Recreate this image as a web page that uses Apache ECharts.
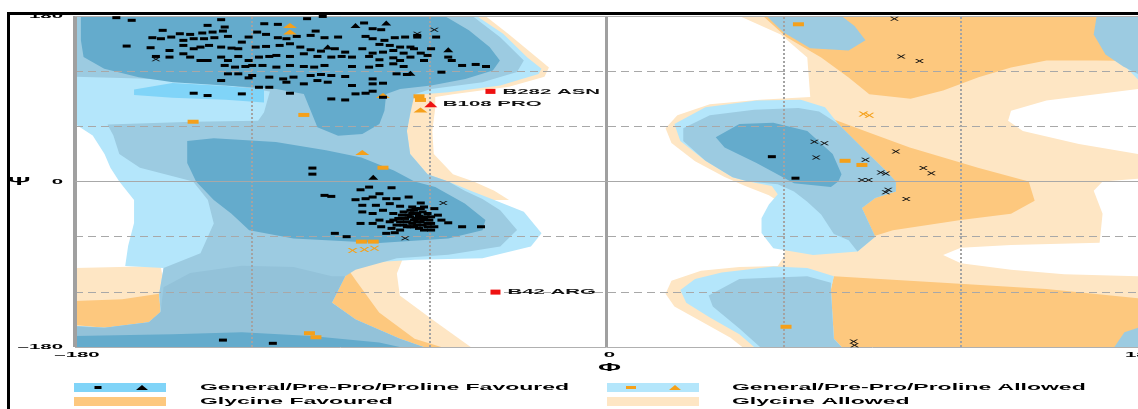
<!DOCTYPE html>
<html>
<head>
<meta charset="utf-8">
<script src="https://cdn.jsdelivr.net/npm/echarts@6/dist/echarts.min.js"></script>
<style>
html, body { margin: 0; padding: 0; background: #fff; }
#chart { width: 1138px; height: 409px; }
</style>
</head>
<body>
<div id="chart"></div>
<script>
// ---- region outlines, [phi, psi] in degrees ----
var glyAllowedRight = [[45,180],[59,160],[68,135],[69,92],[52,89],[35,84],[24,72],[20,58],[22,42],[30,22],[40,5],[47,-5],[55,-15],[60,-25],[62,-50],[60,-82],[58,-92],[45,-93],[32,-97],[22,-108],[20,-122],[23,-136],[32,-152],[42,-170],[46,-180],[180,-180],[180,-103],[155,-101],[137,-96],[120,-89],[114,-80],[120,-72],[137,-69],[167,-66.5],[168,-35],[165,-10],[168,0],[180,3],[180,30],[160,40.7],[141,55],[136,66],[137,77],[149,88],[180,100.7],[180,180]];
var glyAllowedRim = [[-90,180],[-41,180],[-33,160],[-24,136],[-19.5,124],[-21,114],[-33,103],[-52,95],[-58,92],[-58,80],[-59,55],[-58.5,30],[-52,8],[-45,0],[-38,-10],[-33,-20],[-90,-20]];
var glyAllowedBand = [[-90,-84],[-69,-84],[-71,-100],[-70,-124],[-59,-150],[-46,-180],[-90,-180]];
var glyAllowedEdge = [[-180,-94],[-165,-93],[-151,-92],[-150,-110],[-151,-130],[-151,-142],[-155,-153],[-170,-159],[-180,-158]];

var glyFavTop = [[53,180],[61,157],[72.7,135],[82,113],[89,95],[103,90],[114,99],[126,113.5],[137,124],[149,131.6],[166,131.6],[180,131],[180,180]];
var glyFavMid = [[75,70],[90,52],[102.7,37],[125.8,15],[143,0],[145,-21],[137,-35],[120,-42],[97,-53],[88,-62],[80,-40],[80,0],[75,40]];
var glyFavLow = [[77,-103],[114,-110],[149,-117],[180,-127],[180,-180],[79.6,-180],[77,-171],[76,-117.5]];
var glyFavEdge = [[-180,-130],[-164,-128],[-151.5,-122],[-151,-142.6],[-155,-153],[-170,-159],[-180,-156]];
var glyFavBand = [[-87,-98],[-88.5,-103],[-93,-132],[-85,-150],[-70,-171],[-62,-180],[-56,-180],[-65,-171],[-77,-142.6],[-85,-107]];

var genAllowedLeft = [[-180,180],[-44,180],[-35,160.7],[-26.8,135],[-22,122.5],[-23,117],[-36,104.4],[-53.6,97],[-62,95],[-66,90],[-66.5,73.5],[-67.6,55],[-66.5,30],[-60.6,8],[-53.6,0],[-46,-10],[-38,-20],[-28,-33],[-22,-56.4],[-25.6,-70.8],[-42,-83.4],[-65,-85],[-80,-88],[-87,-98],[-88.5,-103],[-93,-132],[-85,-150],[-70,-171],[-62,-180],[-180,-180],[-180,-157],[-170,-159],[-155,-153],[-151,-142],[-151.5,-122],[-150,-94],[-163,-92],[-162,-70],[-160,-45],[-160,-20],[-165,0],[-168,15],[-170,30],[-174,50],[-180,62.5]];
var genAllowedMid = [[23,62.5],[33.5,80.7],[50.8,88],[65.8,89],[74,80.7],[78.5,62.5],[86.5,37],[94.6,11.6],[98,0],[98,-11],[91,-18],[86.5,-28.7],[91,-60],[85,-76],[70,-80],[56.5,-72.6],[52.5,-56],[52.5,-40],[55,-25],[58,-14],[56,-5],[48,0],[42.7,4.5],[33.5,22.6],[25,44]];
var genAllowedLow = [[77,-103],[68,-94],[56.5,-92.5],[39,-99],[30,-106],[25,-118],[27,-132],[35,-148],[45,-166],[50,-180],[79.6,-180],[77,-171],[76,-117.5]];
var genAllowedCorner = [[176,124],[180,111],[180,122]];

var genMidLeft = [[-180,180],[-45.4,180],[-36,157],[-28,131.6],[-30.3,119],[-42,108],[-59.4,100.7],[-65,95],[-66.5,73.5],[-67.6,55],[-66.5,30],[-60.6,8],[-53.6,0],[-48,-10],[-42,-19],[-36,-31.4],[-30.3,-52.8],[-36,-70.8],[-53.6,-79.8],[-71,-83.4],[-85,-96],[-88.5,-103],[-93,-132],[-85,-150],[-70,-171],[-62,-180],[-180,-180],[-180,-157],[-170,-159],[-155,-153],[-151,-142],[-151.5,-122],[-150,-94],[-137.5,-78],[-133,-45.6],[-135,-20],[-140,0],[-158,15],[-165,30],[-167,50],[-169,62],[-140,65],[-118,66],[-116,75],[-114,98],[-135,108],[-158,112],[-180,114]];
var genMidRight = [[26,58],[35,72],[50,78],[65,80],[72,76],[78.5,62.5],[86.5,37],[94.6,11.6],[98,0],[98,-11],[91,-18],[86.5,-28.7],[91,-60],[85,-76],[82,-64],[77,-57],[72.7,-36],[68,-22],[63.5,-11],[58,-3],[48,0],[42.7,4.5],[33.5,22.6],[26,44]];
var genMidLow = [[34.6,-124],[45,-106],[68,-103],[76,-110],[76,-117.5],[77,-171],[79.6,-180],[52,-180],[45,-160],[36,-136]];
var genMidTop = [[54.2,180],[60,162],[69,145],[82,142.5],[87.7,153.5],[84,169],[79.6,180]];
var genMidCornerTop = [[166,180],[165,160],[169,138],[175,125],[180,117],[180,180]];
var genMidCornerLow = [[172,-180],[175.4,-164],[180,-159],[180,-180]];
var genMid2Left = [[-150,-115],[-141,-99.5],[-123.5,-91.6],[-106,-93],[-93,-103],[-88.5,-103],[-93,-132],[-85,-150],[-70,-171],[-62,-180],[-180,-180],[-180,-158],[-170,-159],[-155,-153],[-151,-142]];
var genCyanBand = [[-160,100],[-147,107],[-129,104],[-116,100],[-116,86],[-129,89],[-147,91],[-160,94]];

var genFavBeta = [[-54.8,180],[-46.6,164.4],[-39.6,146.2],[-36.1,131.6],[-38.5,120.7],[-47.8,111.6],[-59.4,104.4],[-69.9,100.7],[-74.6,95.3],[-75.2,77],[-76.9,62.5],[-82.7,51.6],[-90.9,49.8],[-97.9,58.9],[-100.2,77.1],[-102.5,95.3],[-111.8,100.7],[-129.3,104.4],[-146.8,108],[-158.4,113.5],[-170.1,122.5],[-177.1,135.3],[-178,153.5],[-178,180]];
var genFavBottom = [[-180,-180],[-180,-168],[-147,-166],[-123.5,-164],[-100,-168],[-77,-175],[-70,-180]];
var genFavAlpha = [[-142,44],[-133,47],[-112,43],[-95,34],[-83,26],[-72,12],[-65,0],[-58,-6],[-48,-24],[-41,-42],[-42,-53],[-53.6,-62],[-77,-67],[-106,-62],[-121,-53],[-127,-35],[-133,-20],[-139,0],[-142,20]];
var genFavRight = [[37,48],[45,62.5],[56.5,64],[68,55],[76.6,30],[79.6,8],[78.5,0],[76,-6],[63.5,-2],[50.8,20],[40,37]];

// ---- residues ----
var favouredDots = [[-166,178.2],[-160.8,175.3],[-130.5,176],[-101.4,177.1],[-96.1,179.5],[-135.1,169.8],[-129.3,168],[-115.9,171.6],[-111.3,170.9],[-82.1,172.4],[-79.2,166.2],[-76.3,165.1],[-64.1,158.9],[-98.5,163.6],[-150.3,164.4],[-144.5,160.7],[-141,160],[-136.9,161.5],[-133.4,162.5],[-129.9,163.6],[-153.8,156.4],[-150.9,155.3],[-147.4,157.1],[-143.3,153.5],[-139.8,155.3],[-136.3,155.3],[-132.8,156.4],[-128.2,157.8],[-123.5,151.6],[-118.3,162.5],[-115.3,160],[-121.2,157.1],[-111.3,156.4],[-108.4,155.3],[-104.9,157.8],[-100.2,158.9],[-95.5,156.4],[-90.9,157.1],[-81.6,157.8],[-79.2,155.3],[-75.2,153.5],[-71.7,156.4],[-68.2,157.1],[-64.1,157.1],[-57.7,157.1],[-76.9,149.1],[-73.4,148],[-69.9,146.2],[-66.4,146.2],[-65.2,144.4],[-59.4,144.4],[-162.5,147.3],[-154.4,145.5],[-148,142.5],[-143.3,148],[-139.8,144.4],[-137.5,146.2],[-134.6,148],[-130.5,146.2],[-127,145.1],[-124.7,144.4],[-118.8,146.2],[-115.3,146.9],[-110.7,148],[-107.2,149.8],[-103.7,146.2],[-100.2,143.3],[-96.7,141.8],[-92,144.4],[-88.5,140.7],[-82.7,144.4],[-79.2,139.6],[-75.7,140.7],[-72.2,142.5],[-68.7,139.6],[-62.9,139.6],[-60.6,137.1],[-53.6,135.3],[-52.4,131.6],[-48.9,126.2],[-44.3,127.3],[-40.8,125.1],[-152.6,136],[-148,135.3],[-143.3,138.9],[-141,135.3],[-137.5,131.6],[-135.1,131.6],[-130.5,135.3],[-128.2,131.6],[-124.7,136],[-121.2,131.6],[-117.7,135.3],[-114.2,136],[-111.8,137.1],[-107.2,136],[-102.5,138.9],[-97.9,136],[-93.2,135.3],[-89.7,136],[-86.2,135.3],[-80.4,136],[-76.9,132.4],[-72.2,134.5],[-69.9,131.6],[-66.4,135.3],[-61.8,131.6],[-129.3,126.2],[-125.8,124.4],[-122.3,125.1],[-120,126.2],[-116.5,126.2],[-111.8,124.4],[-107.2,126.2],[-102.5,125.1],[-99,124.4],[-95.5,126.2],[-86.2,125.1],[-80.4,124.4],[-76.9,126.2],[-72.2,128],[-68.7,125.1],[-128.2,117.1],[-124.7,117.1],[-120,115.3],[-114.2,113.5],[-109.5,111.6],[-106,113.5],[-100.2,115.3],[-96.7,116.4],[-93.2,115.3],[-88.5,114.2],[-79.2,111.6],[-71.1,117.1],[-67.6,116.4],[-55.9,118.9],[-130.5,109.8],[-121.2,112.7],[-117.7,102.5],[-114.2,102.5],[-108.4,108],[-107.2,96],[-102.5,106.2],[-97.9,109.8],[-94.4,108],[-86.2,104.4],[-79.2,106.2],[-75.7,106.9],[-139.8,96],[-135.1,93.5],[-123.5,95.3],[-93.2,89.8],[-88.5,88.7],[-85,95.3],[-81.6,96],[-79.2,98.2],[-75.7,91.6],[-99.6,14.6],[-99.6,8],
  [-80.4,-6.1],[-72.8,-6.8],[-76.9,-13.3],[-83.3,-9],[-79.2,-16.9],[-95.5,-15.1],[-93.2,-16.2],[-85,-19.8],[-81.6,-18.7],[-74.6,-18.7],[-71.1,-18.7],[-67,-16.9],[-62.9,-23.4],[-82.7,-25.9],[-78.1,-25.9],[-73.4,-24.1],[-69.9,-26.9],[-65.8,-27.7],[-61.8,-27.7],[-58.3,-29.5],[-82.7,-33.1],[-79.2,-34.8],[-75.7,-31.3],[-72.2,-34.8],[-68.7,-33.1],[-65.2,-31.3],[-60.6,-34.8],[-57.1,-36.6],[-83.3,-45.6],[-79.2,-45.6],[-76.9,-42],[-73.4,-43.8],[-70.5,-40.2],[-66.4,-38.4],[-62.9,-40.2],[-59.4,-38.4],[-55.9,-42],[-53.6,-44.9],[-48.9,-49.2],[-42.5,-49.2],[-76.3,-49.2],[-72.8,-51],[-69.9,-52.8],[-66.4,-49.2],[-64.1,-47.4],[-60.6,-45.6],[-58.3,-49.2],[-59.4,-52.8],[-74.6,-56.4],[-71.7,-55.7],[-92,-56.4],[-88,-60],[-65.2,-42],[-64.1,-34.8],[-62.9,-43.8],[-67.6,-43.8],[-65.8,-45.6],[-64.7,-40.2],[-61.8,-41.3],[-63.5,-37.7],[-67,-36.6],[-68.7,-47.4],[-62.3,-33.1],[-61.2,-38.4],[-60,-42],[-65.2,-49.2],[-63.5,-51],[-68.2,-40.2],[-69.9,-43.8],[-62.3,-47.4],[-66.4,-31.3],[-59.4,-45.6],[-64.7,-29.5],[-69.3,-36.6],[-60.6,-49.2],[-64.1,-43.8],[-65.8,-34.8],[-62.9,-29.5],[-67.6,-49.2],[-61.8,-52.8],[-71.1,-47.4],[-72.2,-42],
  [-129.9,-172.5],[-113,-176],[56,27],[64,3.6]];
var favouredTriangles = [[-85,169.8],[-74.6,172.4],[-94.4,146.2],[-53.6,143.3],[-66.4,117.8],[-79,4.6]];
var glyFavouredCrosses = [[-58.3,165.1],[-64.1,160.7],[-152.6,133],[-55.3,-23.4],[-68.2,-61.8],[97.5,177],[99.8,136],[106,131],[70.4,43.3],[73.8,41.5],[71,26],[98,32.7],[87.7,23.6],[107.3,14.6],[110,9],[92.9,9.8],[94.6,8.7],[86.5,1.5],[88.8,1.5],[95.4,-9],[94.6,-11.7],[101.5,-19],[83.7,-174],[84,-178]];
var allowedSquares = [[-102.5,72.4],[-140,65],[-63.5,92.7],[-63,88.7],[-75.7,15],[-83,-65.4],[-79,-65.4],[-100.6,-165],[-98.4,-169.4],[65,171],[80.8,22.5],[86.5,18],[60.8,-158]];
var allowedTriangles = [[-107.2,169.8],[-107.2,162.5],[-75.7,93.5],[-63,77.8],[-82.7,31.6]];
var glyAllowedCrosses = [[-86,-75],[-82,-74],[-78.6,-72.6],[87,73.5],[89,72]];
var outlierSquares = [[-39.3,98,'B282 ASN'],[-37.6,-120.3,'B42 ARG']];
var outlierTriangles = [[-59.5,84,'B108 PRO']];

var phiTicks = [-180, 0, 180];
var psiTicks = [180, 0, -180];
var dottedPhi = [-120, -60, 60, 120];
var dashedPsi = [120, 60, -60, -120];

// ---- look ----
var FONT = '"Liberation Sans", Arial, sans-serif';
var measure = document.createElement('canvas').getContext('2d');
measure.font = 'bold 9px ' + FONT;
// the source picture is stretched sideways, so text is too
var SX = 369 / measure.measureText('General/Pre-Pro/Proline Favoured').width;

var C_GLY_ALLOWED = '#fee6c4', C_GLY_FAV = '#fdc87e', C_GEN_ALLOWED = '#b4e6fb',
	C_GEN_MID = '#9ccbe1', C_GEN_MID2 = '#93c2d9', C_CYAN = '#80d4f8', C_DARK = '#64abcc',
	C_ORANGE = '#f5a01a', C_RED = '#ee1111';
var CROSS = 'path://M0,0L2,0L5,3L8,0L10,0L6,4L10,8L8,8L5,5L2,8L0,8L4,4Z';
var GRID = {left: 75, top: 16, width: 1065, height: 331};

function regionSeries(polys, color) {
	return {
		type: 'custom', coordinateSystem: 'cartesian2d', silent: true, clip: true, z: 1,
		data: polys.map(function (p) { return p[0]; }),
		renderItem: function (params, api) {
			var pts = polys[params.dataIndex].map(function (p) { return api.coord(p); });
			return {type: 'polygon', shape: {points: pts}, style: {fill: color}};
		}
	};
}

function pointSeries(data, symbol, size, color) {
	return {
		type: 'scatter', data: data, symbol: symbol, symbolSize: size, z: 5, silent: true,
		itemStyle: {color: color, opacity: 1}
	};
}

function labelSeries(data) {
	return {
		type: 'custom', coordinateSystem: 'cartesian2d', silent: true, clip: false, z: 6,
		data: data,
		renderItem: function (params, api) {
			var pt = api.coord([api.value(0), api.value(1)]);
			return {
				type: 'text', x: pt[0] + 12, y: pt[1], scaleX: SX,
				style: {text: data[params.dataIndex][2], font: 'bold 8px ' + FONT, fill: '#111', align: 'left', verticalAlign: 'middle'}
			};
		}
	};
}

function txt(str, x, y, align, size) {
	return {
		type: 'text', x: x, y: y, scaleX: SX, z: 10,
		style: {text: str, font: 'bold ' + size + 'px ' + FONT, fill: '#000', align: align, verticalAlign: 'middle'}
	};
}

function legendBox(x, y, w, fill) {
	return {type: 'rect', shape: {x: x, y: y, width: w, height: 9}, style: {fill: fill}, z: 10};
}
function legendDash(cx, cy, color, w) {
	return {type: 'rect', shape: {x: cx - w / 2, y: cy - 1.5, width: w, height: 3}, style: {fill: color}, z: 11};
}
function legendTri(cx, cy, color) {
	return {type: 'polygon', shape: {points: [[cx - 6, cy + 2.5], [cx + 6, cy + 2.5], [cx, cy - 2.5]]}, style: {fill: color}, z: 11};
}
function legendCross(cx, cy, color) {
	return {type: 'group', z: 11, children: [
		{type: 'line', shape: {x1: cx - 4, y1: cy - 2, x2: cx + 4, y2: cy + 2}, style: {stroke: color, lineWidth: 1.5}},
		{type: 'line', shape: {x1: cx - 4, y1: cy + 2, x2: cx + 4, y2: cy - 2}, style: {stroke: color, lineWidth: 1.5}}
	]};
}

var lineData = [];
dottedPhi.forEach(function (v) {
	lineData.push({xAxis: v, lineStyle: {color: '#a3a3a3', width: 2, type: [2, 2]}});
});
dashedPsi.forEach(function (v) {
	lineData.push({yAxis: v, lineStyle: {color: '#a8a8a8', width: 1, type: [8, 5]}});
});
lineData.push({xAxis: 0, lineStyle: {color: '#a0a0a0', width: 3, type: 'solid'}});
lineData.push({xAxis: -180, lineStyle: {color: '#a0a0a0', width: 4, type: 'solid'}});
lineData.push({yAxis: 0, lineStyle: {color: '#a8a8a8', width: 1, type: 'solid'}});
lineData.push({yAxis: 180, lineStyle: {color: '#b0b0b0', width: 1, type: 'solid'}});
lineData.push({yAxis: -180, lineStyle: {color: '#b0b0b0', width: 1, type: 'solid'}});

var xOf = function (phi) { return GRID.left + (phi + 180) / 360 * GRID.width; };
var yOf = function (psi) { return GRID.top + (180 - psi) / 360 * GRID.height; };

var graphics = [
	{type: 'rect', shape: {x: 8.5, y: 13.5, width: 1150, height: 420}, style: {fill: 'none', stroke: '#000', lineWidth: 3}, z: 20}
];
psiTicks.forEach(function (v) { graphics.push(txt(String(v).replace('-', '\u2013'), GRID.left - 12, yOf(v), 'right', 8)); });
phiTicks.forEach(function (v) { graphics.push(txt(String(v).replace('-', '\u2013'), xOf(v) + 2, GRID.top + GRID.height + 8, 'center', 8)); });
graphics.push(txt('\u03a8', 19, yOf(0), 'center', 11));
graphics.push(txt('\u03a6', xOf(0) + 2, 368, 'center', 11));

graphics.push(legendBox(74, 383, 92, C_CYAN), legendDash(98, 387.5, '#000', 7), legendTri(142, 387.5, '#000'));
graphics.push(legendBox(607, 383, 92, C_GEN_ALLOWED), legendDash(631, 387.5, C_ORANGE, 10), legendTri(675, 387.5, C_ORANGE));
graphics.push(legendBox(74, 397, 92, C_GLY_FAV), legendCross(120, 401.5, '#222'));
graphics.push(legendBox(607, 397, 92, C_GLY_ALLOWED), legendCross(653, 401.5, C_ORANGE));
graphics.push(txt('General/Pre-Pro/Proline Favoured', 200, 387.5, 'left', 9));
graphics.push(txt('General/Pre-Pro/Proline Allowed', 732, 387.5, 'left', 9));
graphics.push(txt('Glycine Favoured', 200, 401.5, 'left', 9));
graphics.push(txt('Glycine Allowed', 732, 401.5, 'left', 9));

var series = [
	regionSeries([glyAllowedRight, glyAllowedRim, glyAllowedBand, glyAllowedEdge], C_GLY_ALLOWED),
	regionSeries([glyFavTop, glyFavMid, glyFavLow, glyFavEdge, glyFavBand], C_GLY_FAV),
	regionSeries([genAllowedLeft, genAllowedMid, genAllowedLow, genAllowedCorner], C_GEN_ALLOWED),
	regionSeries([genMidLeft, genMidRight, genMidLow, genMidTop, genMidCornerTop, genMidCornerLow], C_GEN_MID),
	regionSeries([genMid2Left], C_GEN_MID2),
	regionSeries([genCyanBand], C_CYAN),
	regionSeries([genFavBeta, genFavBottom, genFavAlpha, genFavRight], C_DARK),
	{
		type: 'scatter', data: [], z: 3, silent: true,
		markLine: {silent: true, symbol: 'none', label: {show: false}, animation: false, data: lineData}
	},
	pointSeries(allowedSquares, 'rect', [11, 4], C_ORANGE),
	pointSeries(allowedTriangles, 'triangle', [14, 5], C_ORANGE),
	pointSeries(glyAllowedCrosses, CROSS, [10, 5], C_ORANGE),
	pointSeries(glyFavouredCrosses, CROSS, [9, 4], '#111'),
	pointSeries(favouredDots, 'rect', [8, 3], '#000'),
	pointSeries(favouredTriangles, 'triangle', [10, 5], '#000'),
	pointSeries(outlierSquares, 'rect', [10, 5], C_RED),
	pointSeries(outlierTriangles, 'triangle', [13, 6], C_RED),
	labelSeries(outlierSquares.concat(outlierTriangles))
];

var chart = echarts.init(document.getElementById('chart'));
chart.setOption({
	animation: false,
	backgroundColor: '#fff',
	grid: {left: GRID.left, top: GRID.top, width: GRID.width, height: GRID.height, show: false},
	xAxis: {
		type: 'value', min: -180, max: 180, interval: 180,
		axisLine: {show: false}, axisTick: {show: false}, axisLabel: {show: false}, splitLine: {show: false}
	},
	yAxis: {
		type: 'value', min: -180, max: 180, interval: 180,
		axisLine: {show: false}, axisTick: {show: false}, axisLabel: {show: false}, splitLine: {show: false}
	},
	graphic: graphics,
	series: series
});
</script>
</body>
</html>
